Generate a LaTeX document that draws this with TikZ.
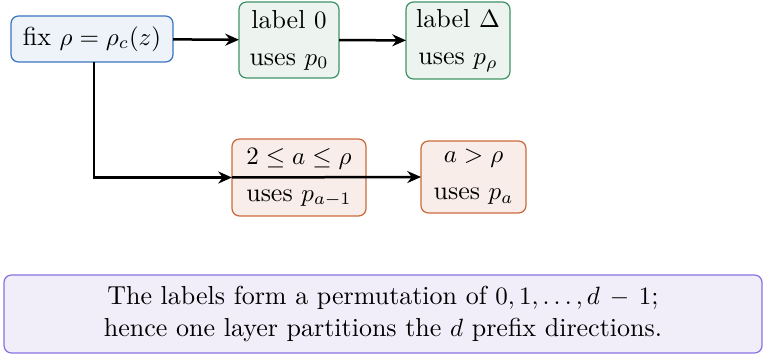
\documentclass[tikz,border=0pt]{standalone}
\usetikzlibrary{arrows.meta}
\definecolor{blueD}{HTML}{3A74C0}
\definecolor{blueF}{HTML}{EEF3F9}
\definecolor{greenD}{HTML}{3E9466}
\definecolor{greenF}{HTML}{EDF4F0}
\definecolor{orangeD}{HTML}{CC6A3C}
\definecolor{orangeF}{HTML}{F8EDE8}
\definecolor{purpleD}{HTML}{8A73E0}
\definecolor{purpleF}{HTML}{F1EEF9}
\tikzset{
  box/.style={draw, rounded corners=3pt, line width=0.5pt, inner sep=0pt, outer sep=0pt, align=center,
    font=\fontsize{10.4}{14.8}\selectfont},
  bluebox/.style={box, draw=blueD, fill=blueF},
  greenbox/.style={box, draw=greenD, fill=greenF},
  orangebox/.style={box, draw=orangeD, fill=orangeF},
  notebox/.style={box, draw=purpleD, fill=purpleF, font=\fontsize{10.4}{13}\selectfont},
  conn/.style={-{Stealth[length=5.5pt,width=4.8pt]}, line width=1pt},
}
\begin{document}
\begin{tikzpicture}[x=0.4pt,y=-0.4pt]
\useasboundingbox (0,0) rectangle (766,358);
\node[bluebox, minimum width=64.8pt, minimum height=18.4pt] (A) at (92,39) {fix $\rho=\rho_c(z)$};
\node[greenbox, minimum width=40pt, minimum height=30.4pt] (B) at (289,40) {label $0$\\uses $p_0$};
\node[greenbox, minimum width=41.6pt, minimum height=30.8pt] (C) at (458,40.5) {label $\Delta$\\uses $p_\rho$};
\node[orangebox, minimum width=53.6pt, minimum height=30.8pt] (D) at (299,177.5) {$2\le a\le\rho$\\uses $p_{a-1}$};
\node[orangebox, minimum width=42pt, minimum height=28.8pt] (E) at (473.5,177) {$a>\rho$\\uses $p_a$};
\node[notebox, minimum width=303.2pt, minimum height=31.2pt] (N) at (383,314) {The labels form a permutation of $0,1,\ldots,d\,-\,1$;\\hence one layer partitions the $d$ prefix directions.};
\draw[conn] (A) -- (B);
\draw[conn] (B) -- (C);
\draw[conn] (A.south -| 94,0) |- (D.west);
\draw[conn] (D.west) -- (E.west);
\end{tikzpicture}
\end{document}
